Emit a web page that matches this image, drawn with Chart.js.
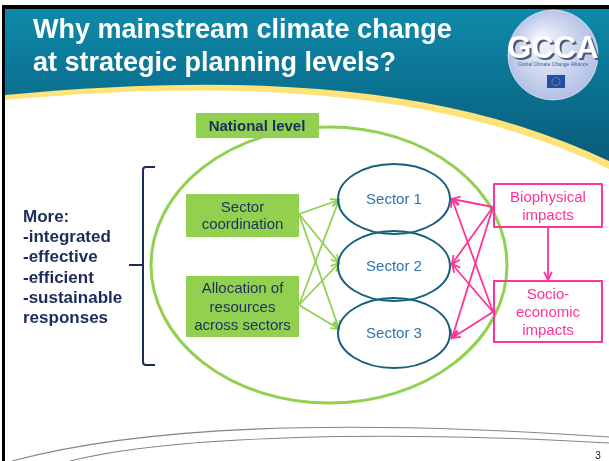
<!DOCTYPE html>
<html>
<head>
<meta charset="utf-8">
<script src="https://cdn.jsdelivr.net/npm/chart.js@4.4.0/dist/chart.umd.min.js"></script>
<style>
  html, body { margin: 0; padding: 0; background: #fff; overflow: hidden; }
  canvas { display: block; }
</style>
</head>
<body>
<canvas id="slideChart" width="609" height="461"></canvas>
<script>
// Texts and structure of the diagram
const titleLines = ['Why mainstream climate change', 'at strategic planning levels?'];
const levelLabel = 'National level';
const benefitLines = ['More:', '-integrated', '-effective', '-efficient', '-sustainable', 'responses'];
const driverLabels = [['Sector', 'coordination'], ['Allocation of', 'resources', 'across sectors']];
const sectorLabels = ['Sector 1', 'Sector 2', 'Sector 3'];
const impactLabels = [['Biophysical', 'impacts'], ['Socio-', 'economic', 'impacts']];
const logoLabel = 'GCCA';
const logoSubLabel = 'Global Climate Change Alliance';
const pageNumber = '3';

// Layout in scale units (the slide is mapped 1:1 onto the x / y scales)
const layout = {
    driverBoxes: [{ x: 186, y: 194, w: 113, h: 43 }, { x: 186, y: 276, w: 113, h: 61 }],
    driverOut: [214, 305],
    sectorX: 394, sectorY: [199, 266, 333], sectorRx: 56, sectorRy: 35,
    greenTipX: 339, greenTipY: [200, 263, 329],
    pinkTipX: 452, pinkTipY: [199, 264, 338],
    impactBoxes: [{ x: 494, y: 184, w: 108, h: 43 }, { x: 494, y: 281, w: 108, h: 61 }],
    impactOut: [207, 312]
};

const GREEN = '#92d050';
const PINK = '#ff3399';
const NAVY = '#1b2b5b';

// One line dataset per arrow (drawn by the library on its own scales)
const arrowSets = [];
layout.driverOut.forEach((dy, i) => {
    layout.greenTipY.forEach((ty, j) => {
        arrowSets.push({
            data: [{ x: 299, y: dy }, { x: layout.greenTipX, y: ty }],
            borderColor: GREEN, borderWidth: 1.8, pointRadius: 0, showLine: true, arrow: true
        });
    });
});
layout.impactOut.forEach((iy, i) => {
    layout.pinkTipY.forEach((ty, j) => {
        arrowSets.push({
            data: [{ x: 493, y: iy }, { x: layout.pinkTipX, y: ty }],
            borderColor: PINK, borderWidth: 1.8, pointRadius: 0, showLine: true, arrow: true
        });
    });
});
arrowSets.push({
    data: [{ x: 548, y: 227 }, { x: 548, y: 280 }],
    borderColor: PINK, borderWidth: 1.8, pointRadius: 0, showLine: true, arrow: true
});

function centeredLines(ctx, lines, cx, firstBase, step) {
    lines.forEach((l, k) => ctx.fillText(l, cx, firstBase + k * step));
}

const slidePlugin = {
    id: 'slide',
    beforeDraw(chart) {
        const ctx = chart.ctx;
        const X = v => chart.scales.x.getPixelForValue(v);
        const Y = v => chart.scales.y.getPixelForValue(v);
        ctx.save();
        ctx.fillStyle = '#fff';
        ctx.fillRect(0, 0, chart.width, chart.height);

        // yellow band under the header
        ctx.fillStyle = '#fde37a';
        ctx.beginPath();
        ctx.moveTo(X(5), Y(9));
        ctx.lineTo(X(609), Y(9));
        ctx.lineTo(X(609), Y(169));
        ctx.bezierCurveTo(X(450), Y(92), X(250), Y(78), X(5), Y(100));
        ctx.closePath();
        ctx.fill();

        // teal header
        const g = ctx.createLinearGradient(0, Y(9), 0, Y(165));
        g.addColorStop(0, '#0f8aaa');
        g.addColorStop(0.55, '#0a6f8f');
        g.addColorStop(1, '#0a5a78');
        ctx.fillStyle = g;
        ctx.beginPath();
        ctx.moveTo(X(5), Y(9));
        ctx.lineTo(X(609), Y(9));
        ctx.lineTo(X(609), Y(161));
        ctx.bezierCurveTo(X(450), Y(85), X(250), Y(72), X(5), Y(95));
        ctx.closePath();
        ctx.fill();

        // logo
        const lg = ctx.createRadialGradient(X(540), Y(40), 5, X(553), Y(54), 46);
        lg.addColorStop(0, '#eef2fb');
        lg.addColorStop(1, '#b3c0e6');
        ctx.fillStyle = lg;
        ctx.beginPath();
        ctx.arc(X(553), Y(55), 45, 0, Math.PI * 2);
        ctx.fill();
        ctx.strokeStyle = 'rgba(255,255,255,0.6)';
        ctx.lineWidth = 1;
        ctx.stroke();
        ctx.textAlign = 'center';
        ctx.font = 'bold 31px "Liberation Sans", Arial, sans-serif';
        ctx.fillStyle = '#4d5a78';
        ctx.fillText(logoLabel, X(555), Y(60));
        ctx.fillStyle = '#ffffff';
        ctx.fillText(logoLabel, X(553), Y(58));
        ctx.font = '5px "Liberation Sans", Arial, sans-serif';
        ctx.fillStyle = '#3a5aa0';
        ctx.fillText(logoSubLabel, X(553), Y(66));
        ctx.fillStyle = '#1f4fa8';
        ctx.fillRect(X(547), Y(75), 18, 13);
        ctx.strokeStyle = '#f5d000';
        ctx.setLineDash([1, 1.2]);
        ctx.beginPath();
        ctx.arc(X(556), Y(81.5), 4, 0, Math.PI * 2);
        ctx.stroke();
        ctx.setLineDash([]);

        // title
        ctx.textAlign = 'left';
        ctx.fillStyle = '#ffffff';
        ctx.font = 'bold 27px "Liberation Sans", Arial, sans-serif';
        ctx.fillText(titleLines[0], X(33), Y(38));
        ctx.fillText(titleLines[1], X(33), Y(71));

        // black frame (top and left)
        ctx.fillStyle = '#000';
        ctx.fillRect(X(2), Y(5), chart.width, 4);
        ctx.fillRect(X(2), Y(5), 3, chart.height);

        // footer swooshes
        ctx.strokeStyle = '#858585';
        ctx.lineWidth = 1.1;
        ctx.beginPath();
        ctx.moveTo(X(12), Y(461));
        ctx.bezierCurveTo(X(140), Y(427), X(330), Y(418), X(609), Y(437));
        ctx.stroke();
        ctx.beginPath();
        ctx.moveTo(X(70), Y(461));
        ctx.bezierCurveTo(X(170), Y(436), X(380), Y(430), X(609), Y(443));
        ctx.stroke();

        ctx.fillStyle = '#222';
        ctx.font = '10px "Liberation Sans", Arial, sans-serif';
        ctx.textAlign = 'center';
        ctx.fillText(pageNumber, X(598), Y(459));
        ctx.restore();
    },
    beforeDatasetsDraw(chart) {
        const ctx = chart.ctx;
        const X = v => chart.scales.x.getPixelForValue(v);
        const Y = v => chart.scales.y.getPixelForValue(v);
        ctx.save();

        // national level ellipse
        ctx.strokeStyle = GREEN;
        ctx.lineWidth = 3;
        ctx.beginPath();
        ctx.ellipse(X(329), Y(265), 178, 138, 0, 0, Math.PI * 2);
        ctx.stroke();

        // national level label
        ctx.fillStyle = GREEN;
        ctx.fillRect(X(196), Y(113), 123, 25);
        ctx.fillStyle = NAVY;
        ctx.textAlign = 'center';
        ctx.font = 'bold 15px "Liberation Sans", Arial, sans-serif';
        ctx.fillText(levelLabel, X(257), Y(131));

        // brace
        ctx.strokeStyle = NAVY;
        ctx.lineWidth = 2;
        ctx.lineJoin = 'round';
        ctx.beginPath();
        ctx.moveTo(X(155), Y(167));
        ctx.lineTo(X(146), Y(167));
        ctx.quadraticCurveTo(X(143), Y(167), X(143), Y(170));
        ctx.lineTo(X(143), Y(362));
        ctx.quadraticCurveTo(X(143), Y(365), X(146), Y(365));
        ctx.lineTo(X(155), Y(365));
        ctx.moveTo(X(129), Y(265));
        ctx.lineTo(X(143), Y(265));
        ctx.stroke();

        // benefits text
        ctx.textAlign = 'left';
        ctx.font = 'bold 17px "Liberation Sans", Arial, sans-serif';
        ctx.fillStyle = NAVY;
        benefitLines.forEach((l, k) => ctx.fillText(l, X(23), Y(222 + k * 20.2)));

        // driver boxes
        ctx.textAlign = 'center';
        ctx.font = '15px "Liberation Sans", Arial, sans-serif';
        layout.driverBoxes.forEach((b, i) => {
            ctx.fillStyle = GREEN;
            ctx.fillRect(X(b.x), Y(b.y), b.w, b.h);
            ctx.fillStyle = '#1f2f5f';
            const n = driverLabels[i].length;
            const step = n === 2 ? 17 : 18.5;
            const first = b.y + b.h / 2 - (n - 1) * step / 2 + 5;
            centeredLines(ctx, driverLabels[i], X(b.x + b.w / 2), Y(first), step);
        });

        // impact boxes
        layout.impactBoxes.forEach((b, i) => {
            ctx.strokeStyle = PINK;
            ctx.lineWidth = 2;
            ctx.strokeRect(X(b.x), Y(b.y), b.w, b.h);
            ctx.fillStyle = PINK;
            const n = impactLabels[i].length;
            const step = 18;
            const first = b.y + b.h / 2 - (n - 1) * step / 2 + 5;
            centeredLines(ctx, impactLabels[i], X(b.x + b.w / 2), Y(first), step);
        });
        ctx.restore();
    },
    afterDatasetsDraw(chart) {
        const ctx = chart.ctx;
        const X = v => chart.scales.x.getPixelForValue(v);
        const Y = v => chart.scales.y.getPixelForValue(v);
        ctx.save();

        // arrow heads at the end of each line dataset
        chart.data.datasets.forEach((ds, i) => {
            if (!ds.arrow) return;
            const pts = chart.getDatasetMeta(i).data;
            const a = pts[0], b = pts[pts.length - 1];
            const ang = Math.atan2(b.y - a.y, b.x - a.x);
            ctx.strokeStyle = ds.borderColor;
            ctx.lineWidth = ds.borderWidth;
            ctx.beginPath();
            ctx.moveTo(b.x - 9 * Math.cos(ang - 0.45), b.y - 9 * Math.sin(ang - 0.45));
            ctx.lineTo(b.x, b.y);
            ctx.lineTo(b.x - 9 * Math.cos(ang + 0.45), b.y - 9 * Math.sin(ang + 0.45));
            ctx.stroke();
        });

        // sector ellipses
        ctx.strokeStyle = '#17607d';
        ctx.lineWidth = 2;
        ctx.textAlign = 'center';
        ctx.font = '15px "Liberation Sans", Arial, sans-serif';
        sectorLabels.forEach((s, i) => {
            ctx.beginPath();
            ctx.ellipse(X(layout.sectorX), Y(layout.sectorY[i]), layout.sectorRx, layout.sectorRy, 0, 0, Math.PI * 2);
            ctx.stroke();
            ctx.fillStyle = '#2f73ad';
            ctx.fillText(s, X(layout.sectorX), Y(layout.sectorY[i] + 5));
        });
        ctx.restore();
    }
};

const chart = new Chart(document.getElementById('slideChart').getContext('2d'), {
    type: 'scatter',
    data: { datasets: arrowSets },
    options: {
        responsive: false,
        animation: false,
        devicePixelRatio: 1,
        layout: { padding: 0 },
        scales: {
            x: { type: 'linear', min: 0, max: 609, display: false },
            y: { type: 'linear', min: 0, max: 461, reverse: true, display: false }
        },
        plugins: {
            legend: { display: false },
            tooltip: { enabled: false }
        }
    },
    plugins: [slidePlugin]
});
</script>
</body>
</html>
